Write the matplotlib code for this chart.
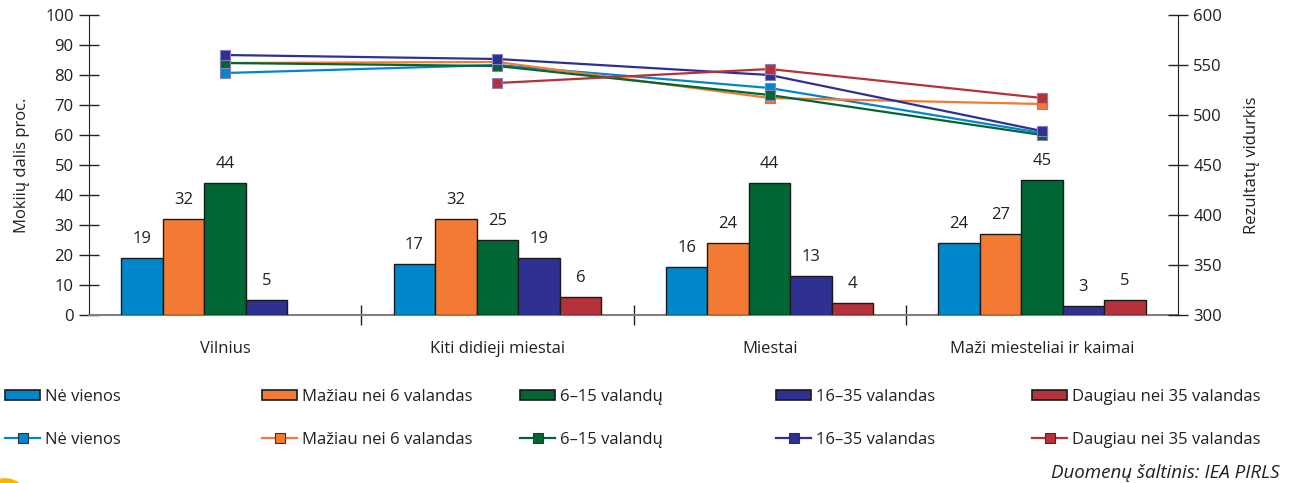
import numpy as np
import matplotlib.pyplot as plt
from matplotlib.patches import Patch, Ellipse
from matplotlib.lines import Line2D

plt.rcParams['font.family'] = ['Open Sans', 'DejaVu Sans']

categories = ['Vilnius', 'Kiti didieji miestai', 'Miestai', 'Maži miesteliai ir kaimai']
series = ['Nė vienos', 'Mažiau nei 6 valandas', '6–15 valandų', '16–35 valandas', 'Daugiau nei 35 valandas']
colors = ['#0087cb', '#f37a32', '#006633', '#2e3192', '#b5323a']

# share of students, %
share_none = [19, 17, 16, 24]
share_lt6 = [32, 32, 24, 27]
share_6_15 = [44, 25, 44, 45]
share_16_35 = [5, 19, 13, 3]
share_gt35 = [np.nan, 6, 4, 5]

# mean score
score_none = [542, 550, 527, 482]
score_lt6 = [552, 553, 517, 511]
score_6_15 = [552, 549, 520, 480]
score_16_35 = [560, 556, 540, 484]
score_gt35 = [np.nan, 532, 546, 517]

shares = [share_none, share_lt6, share_6_15, share_16_35, share_gt35]
scores = [score_none, score_lt6, score_6_15, score_16_35, score_gt35]

fig = plt.figure(figsize=(12.93, 4.83), dpi=100)
ax = fig.add_axes([89 / 1293, 1 - 315 / 483, (1178 - 89) / 1293, 300 / 483])
ax2 = ax.twinx()

x = np.arange(len(categories))
w = 0.1526
for i, (vals, c) in enumerate(zip(shares, colors)):
    pos = x + (i - 2) * w
    ax.bar(pos, vals, width=w, color=c, edgecolor='#1a1a1a', linewidth=1.0, zorder=3)
    for px, v in zip(pos, vals):
        if not np.isnan(v):
            ax.annotate(str(int(v)), (px, v), xytext=(0, 14), textcoords='offset points',
                        ha='center', va='center', fontsize=12, color='#231f20')

for vals, c in zip(scores, colors):
    ax2.plot(x, vals, color=c, lw=1.6, marker='s', markersize=7.5,
             markerfacecolor=c, markeredgecolor='#8a7fb8', markeredgewidth=0.8, zorder=4)

ax.set_xlim(-0.5, 3.5)
ax.set_ylim(0, 100)
ax2.set_ylim(300, 600)
ax.set_yticks(np.arange(0, 101, 10))
ax2.set_yticks(np.arange(300, 601, 50))
ax.set_xticks(x)
ax.set_xticklabels(categories, fontsize=12, color='#231f20')
ax.set_xticks([0.5, 1.5, 2.5], minor=True)
ax.tick_params(axis='x', which='major', length=0, pad=19)
ax.tick_params(axis='x', which='minor', direction='inout', length=14, width=1, color='#231f20')
ax.tick_params(axis='y', direction='inout', length=14, width=1, labelsize=12, color='#231f20',
               labelcolor='#231f20', pad=4)
ax2.tick_params(axis='y', direction='inout', length=14, width=1, labelsize=12, color='#231f20',
                labelcolor='#231f20', pad=4)

for a in (ax, ax2):
    a.spines['top'].set_visible(False)
    a.patch.set_visible(False)
ax.spines['right'].set_visible(False)
ax2.spines['bottom'].set_visible(False)
ax2.spines['left'].set_visible(False)
ax.spines['bottom'].set_color('#808080')
ax.spines['bottom'].set_linewidth(1.5)
ax.spines['left'].set_color('#231f20')
ax2.spines['right'].set_color('#231f20')
ax.set_zorder(ax2.get_zorder() - 1)
ax2.patch.set_visible(False)

ax.set_ylabel('Mokiių dalis proc.', fontsize=12, color='#231f20', labelpad=11)
ax2.set_ylabel('Rezultatų vidurkis', fontsize=12, color='#231f20', labelpad=16)

col_x = [5, 262, 520, 776, 1032]
for name, c, cx in zip(series, colors, col_x):
    handles = [Patch(facecolor=c, edgecolor='#1a1a1a', linewidth=1.2),
               Line2D([], [], color=c, lw=1.6, marker='s', markersize=7,
                      markerfacecolor=c, markeredgecolor='#333333', markeredgewidth=0.8)]
    fig.legend(handles, [name, name], loc='upper left', bbox_to_anchor=(cx / 1293, 1 - 389 / 483),
               frameon=False, fontsize=12, handlelength=2.1, handleheight=0.6,
               handletextpad=0.3, labelspacing=1.6, borderaxespad=0, borderpad=0,
               labelcolor='#231f20')

fig.text(1280 / 1293, 1 - 473 / 483, 'Duomenų šaltinis: IEA PIRLS', ha='right', va='center',
         fontsize=13.5, style='italic', color='#231f20')

fig.add_artist(Ellipse((0.004, -0.035), 0.035, 0.09, transform=fig.transFigure,
                       facecolor='#f7b500', edgecolor='none'))

fig.savefig('out.png', dpi=100)
